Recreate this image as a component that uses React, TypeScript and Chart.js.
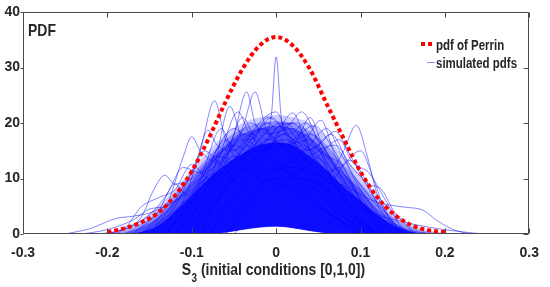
import { useEffect, useRef } from 'react';
import { Chart, registerables } from 'chart.js';
Chart.register(...registerables);

const FONT = "'Liberation Sans Narrow', 'Arial Narrow', 'Liberation Sans', Arial, sans-serif";
const TEXT = '#262626';
const FRAME = '#4a4a4a';
const LINE = 'rgba(0,0,255,0.48)';
const NARROW = 0.82;

const xTickValues = [-0.3, -0.2, -0.1, 0, 0.1, 0.2, 0.3];
const xTickLabels = ['-0.3', '-0.2', '-0.1', '0', '0.1', '0.2', '0.3'];
const yTickValues = [0, 10, 20, 30, 40];
const yTickLabels = ['0', '10', '20', '30', '40'];

// pdf of Perrin (red dotted)
const perrinX = [-0.2, -0.18, -0.16, -0.14, -0.12, -0.1, -0.08, -0.06, -0.04, -0.02, 0, 0.02, 0.04, 0.06, 0.08, 0.1, 0.12, 0.14, 0.16, 0.18, 0.2];
const perrinY = [0.35, 1.0, 2.1, 3.8, 6.9, 11.3, 17.2, 23.8, 29.7, 33.9, 35.5, 33.9, 29.7, 23.4, 17.2, 11.2, 6.6, 3.5, 1.6, 0.7, 0.35];

// density envelopes of the simulated pdfs bundle
const bandX = [-0.22, -0.2, -0.18, -0.16, -0.14, -0.12, -0.1, -0.08, -0.06, -0.04, -0.02, 0, 0.02, 0.04, 0.06, 0.08, 0.1, 0.12, 0.14, 0.16, 0.18, 0.2, 0.22];
const bandBottom = [0, 0, 0, 0, 0, 0, 0, 0, 0.3, 0.8, 1.2, 1.4, 1.1, 0.6, 0.2, 0, 0, 0, 0, 0, 0, 0, 0];
const bandCore = [0, 0, 0, 0.4, 1.5, 4.0, 7.0, 10.0, 12.5, 14.5, 16.0, 16.5, 16.0, 14.0, 11.5, 8.5, 6.0, 3.5, 1.5, 0.4, 0, 0, 0];
const bandInner = [0, 0, 0.2, 1.2, 3.0, 6.0, 9.5, 13.0, 16.0, 18.0, 19.0, 19.5, 19.0, 17.5, 14.5, 11.0, 8.0, 4.5, 2.0, 0.7, 0.2, 0, 0];
const bandMid = [0, 0.1, 0.5, 1.8, 4.0, 7.2, 10.5, 14.0, 17.0, 19.0, 20.0, 20.3, 20.0, 18.5, 16.0, 12.5, 9.2, 5.8, 2.8, 1.2, 0.4, 0.1, 0];
const bandOuter = [0, 0.3, 1.2, 2.6, 5.0, 8.0, 11.5, 15.0, 18.0, 20.0, 21.0, 21.5, 21.0, 20.0, 17.5, 14.0, 10.5, 7.0, 3.8, 1.8, 0.7, 0.2, 0];

// individual simulated pdfs that stand out of the bundle: [x, pdf]
const simCurves: number[][][] = [
  [[-0.25, 0], [-0.22, 1], [-0.19, 2.8], [-0.17, 3.2], [-0.15, 3.8], [-0.12, 6], [-0.09, 10], [-0.06, 13], [-0.03, 12], [0, 9], [0.04, 6], [0.08, 2], [0.12, 0]],
  [[-0.23, 0], [-0.2, 0.8], [-0.17, 2.5], [-0.15, 4.5], [-0.13, 5], [-0.1, 8], [-0.07, 11], [-0.04, 9], [0, 10], [0.05, 5], [0.1, 0]],
  [[-0.19, 0], [-0.16, 3], [-0.145, 8], [-0.132, 10.6], [-0.12, 9], [-0.1, 10], [-0.07, 14], [-0.04, 12], [0, 8], [0.05, 3], [0.1, 0]],
  [[-0.17, 0], [-0.14, 4], [-0.12, 9], [-0.105, 7], [-0.08, 12], [-0.05, 16], [-0.02, 13], [0.02, 10], [0.06, 4], [0.1, 0]],
  [[-0.16, 0], [-0.13, 5], [-0.11, 14], [-0.1, 17.5], [-0.09, 15], [-0.07, 13], [-0.04, 17], [-0.01, 14], [0.03, 9], [0.07, 3], [0.11, 0]],
  [[-0.15, 0], [-0.12, 6], [-0.095, 13], [-0.081, 18.7], [-0.07, 16], [-0.05, 15], [-0.02, 19], [0.01, 15], [0.05, 8], [0.09, 2], [0.12, 0]],
  [[-0.14, 0], [-0.11, 6], [-0.09, 15], [-0.073, 24], [-0.06, 17], [-0.04, 13], [-0.01, 17], [0.02, 14], [0.06, 7], [0.1, 1], [0.13, 0]],
  [[-0.13, 0], [-0.1, 6], [-0.07, 12], [-0.05, 18], [-0.035, 25.6], [-0.025, 20], [-0.01, 17], [0.02, 20], [0.05, 12], [0.09, 4], [0.12, 0]],
  [[-0.12, 0], [-0.09, 5], [-0.06, 14], [-0.04, 19], [-0.025, 25.6], [-0.012, 19], [0.01, 16], [0.04, 17], [0.07, 9], [0.1, 2], [0.13, 0]],
  [[-0.12, 0], [-0.08, 7], [-0.04, 14], [-0.015, 18], [-0.006, 21], [0, 31.9], [0.006, 21], [0.015, 17], [0.04, 13], [0.08, 5], [0.12, 0]],
  [[-0.13, 0], [-0.1, 7], [-0.07, 13], [-0.045, 22], [-0.03, 18], [-0.01, 20], [0.015, 15], [0.05, 10], [0.09, 3], [0.13, 0]],
  [[-0.14, 0], [-0.1, 5], [-0.075, 11], [-0.055, 23], [-0.04, 17], [-0.02, 15], [0.01, 18], [0.04, 12], [0.08, 4], [0.12, 0]],
  [[-0.11, 0], [-0.07, 6], [-0.04, 12], [-0.01, 15], [0.02, 21.8], [0.035, 17], [0.06, 14], [0.09, 7], [0.12, 2], [0.14, 0]],
  [[-0.1, 0], [-0.06, 8], [-0.03, 15], [0, 13], [0.025, 17], [0.04, 21], [0.055, 16], [0.08, 11], [0.11, 4], [0.14, 0]],
  [[-0.12, 0], [-0.08, 5], [-0.05, 11], [-0.02, 16], [0.01, 14], [0.035, 17], [0.053, 20.5], [0.07, 14], [0.1, 6], [0.13, 1], [0.15, 0]],
  [[-0.08, 0], [-0.04, 5], [0, 9], [0.03, 8], [0.06, 10], [0.08, 15], [0.095, 19.6], [0.108, 14], [0.12, 7], [0.14, 2], [0.16, 0]],
  [[-0.09, 0], [-0.05, 6], [-0.02, 11], [0.02, 12], [0.06, 10], [0.09, 8], [0.115, 6], [0.135, 5.2], [0.155, 4.8], [0.174, 4.3], [0.19, 2.5], [0.21, 0.8], [0.23, 0]],
  [[-0.1, 0], [-0.06, 5], [-0.02, 9], [0.03, 10], [0.07, 7], [0.11, 4], [0.15, 2.2], [0.19, 1], [0.22, 0.4], [0.245, 0]],
  [[-0.07, 0], [-0.03, 6], [0, 12], [0.03, 10], [0.06, 9], [0.088, 13.3], [0.105, 10], [0.125, 4], [0.15, 0]],
  [[-0.06, 0], [-0.02, 7], [0.02, 13], [0.05, 11], [0.075, 12], [0.1, 15], [0.115, 10], [0.13, 4], [0.15, 0]],
  [[-0.05, 0], [0, 8], [0.04, 14], [0.07, 16], [0.09, 12], [0.11, 9], [0.125, 8], [0.14, 4], [0.165, 0]],
  [[-0.2, 0], [-0.17, 1.5], [-0.15, 3.5], [-0.13, 7], [-0.11, 12], [-0.09, 11], [-0.07, 14], [-0.04, 18], [-0.01, 15], [0.03, 8], [0.08, 2], [0.11, 0]],
  [[-0.21, 0], [-0.18, 1], [-0.16, 4.9], [-0.14, 6.5], [-0.12, 8], [-0.1, 12.5], [-0.08, 10], [-0.05, 14], [-0.02, 12], [0.02, 8], [0.07, 2], [0.1, 0]],
  [[-0.1, 0], [-0.07, 8], [-0.045, 14], [-0.02, 20], [0, 22], [0.015, 18], [0.035, 20], [0.06, 13], [0.09, 5], [0.12, 0]],
  [[-0.09, 0], [-0.06, 9], [-0.03, 16], [-0.005, 21], [0.01, 19], [0.03, 22], [0.05, 17], [0.08, 10], [0.11, 3], [0.13, 0]],
  [[-0.11, 0], [-0.08, 6], [-0.06, 13], [-0.04, 21], [-0.02, 16], [0.01, 20], [0.04, 15], [0.07, 11], [0.1, 4], [0.13, 0]],
  [[-0.15, 0], [-0.12, 4], [-0.09, 10], [-0.065, 19], [-0.05, 15], [-0.03, 18], [0, 13], [0.04, 11], [0.08, 4], [0.12, 0]],
  [[-0.08, 0], [-0.05, 7], [-0.02, 13], [0.01, 18], [0.03, 15], [0.06, 19], [0.075, 15], [0.1, 8], [0.13, 2], [0.15, 0]],
  [[-0.06, 0], [-0.02, 6], [0.02, 10], [0.05, 14], [0.075, 17], [0.09, 13], [0.11, 11], [0.13, 6], [0.15, 1], [0.17, 0]],
  [[-0.14, 0], [-0.1, 4], [-0.07, 10], [-0.04, 15], [-0.015, 19], [0.01, 16], [0.04, 18], [0.07, 12], [0.1, 5], [0.13, 0]],
  [[-0.12, 0], [-0.09, 8], [-0.06, 17], [-0.04, 14], [-0.02, 17], [0.005, 20], [0.03, 16], [0.06, 11], [0.09, 4], [0.12, 0]],
  [[-0.1, 0], [-0.07, 6], [-0.04, 11], [-0.01, 14], [0.02, 17], [0.045, 19.5], [0.065, 16], [0.09, 9], [0.12, 3], [0.15, 0]],
  [[-0.16, 0], [-0.13, 3], [-0.1, 7], [-0.08, 10], [-0.06, 9], [-0.03, 13], [0, 16], [0.03, 12], [0.07, 6], [0.11, 0]],
  [[-0.07, 0], [-0.04, 5], [-0.01, 10], [0.02, 14], [0.05, 16], [0.07, 18.5], [0.085, 15], [0.11, 8], [0.14, 2], [0.16, 0]],
  [[-0.13, 0], [-0.1, 6], [-0.075, 14], [-0.05, 19], [-0.03, 17], [-0.01, 21], [0.02, 17], [0.05, 14], [0.08, 6], [0.11, 1], [0.13, 0]],
  [[-0.11, 0], [-0.08, 9], [-0.05, 16], [-0.03, 20], [-0.01, 18], [0.02, 19], [0.045, 14], [0.07, 9], [0.1, 3], [0.12, 0]],
  [[-0.09, 0], [-0.06, 8], [-0.03, 13], [0, 19], [0.025, 20], [0.05, 15], [0.08, 12], [0.1, 6], [0.13, 0]],
  [[-0.15, 0], [-0.12, 5], [-0.1, 11], [-0.085, 15], [-0.06, 12], [-0.035, 16], [-0.01, 13], [0.03, 10], [0.08, 3], [0.11, 0]],
  [[-0.08, 0], [-0.05, 6], [-0.02, 14], [0.01, 17], [0.04, 15], [0.065, 18], [0.09, 11], [0.12, 5], [0.15, 0]],
];

function narrowText(ctx: CanvasRenderingContext2D, text: string, x: number, y: number) {
  ctx.save();
  ctx.translate(x, y);
  ctx.scale(NARROW, 1);
  ctx.fillText(text, 0, 0);
  ctx.restore();
}

const decorPlugin = {
  id: 'decor',
  afterDraw(chart: any) {
    const { ctx, chartArea, scales } = chart;
    const { left, right, top, bottom } = chartArea;
    const xs = scales.x;
    const ys = scales.y;
    const L = Math.round(left) + 0.5;
    const R = Math.round(right) - 0.5;
    const T = Math.round(top) + 0.5;
    const B = Math.round(bottom) - 0.5;
    ctx.save();
    ctx.strokeStyle = FRAME;
    ctx.lineWidth = 1;
    ctx.beginPath();
    ctx.rect(L, T, R - L, B - T);
    ctx.stroke();
    ctx.beginPath();
    xTickValues.forEach((v) => {
      const p = Math.round(xs.getPixelForValue(v)) + 0.5;
      ctx.moveTo(p, T); ctx.lineTo(p, T + 5);
      ctx.moveTo(p, B); ctx.lineTo(p, B - 5);
    });
    yTickValues.forEach((v) => {
      const p = Math.round(ys.getPixelForValue(v)) + 0.5;
      ctx.moveTo(L - 3, p); ctx.lineTo(L, p);
      ctx.moveTo(R, p); ctx.lineTo(R - 5, p);
    });
    ctx.stroke();

    // "PDF" label
    ctx.fillStyle = TEXT;
    ctx.textBaseline = 'alphabetic';
    ctx.textAlign = 'left';
    ctx.font = `bold 17px ${FONT}`;
    narrowText(ctx, 'PDF', left + 5, top + 24);

    // legend
    const lx = 421;
    ctx.strokeStyle = '#ff0000';
    ctx.lineWidth = 4;
    ctx.setLineDash([4, 3]);
    ctx.beginPath(); ctx.moveTo(lx, 44); ctx.lineTo(lx + 11, 44); ctx.stroke();
    ctx.setLineDash([]);
    ctx.strokeStyle = 'rgba(0,0,255,0.45)';
    ctx.lineWidth = 1;
    ctx.beginPath(); ctx.moveTo(lx + 6, 62.5); ctx.lineTo(lx + 14, 62.5); ctx.stroke();
    ctx.font = `bold 14px ${FONT}`;
    ctx.fillStyle = TEXT;
    ctx.textBaseline = 'alphabetic';
    narrowText(ctx, 'pdf of Perrin', lx + 15, 50);
    narrowText(ctx, 'simulated pdfs', lx + 15, 68);

    // x-axis title with subscript
    const main = `bold 17px ${FONT}`;
    const sub = `bold 12px ${FONT}`;
    const s1 = 'S';
    const s2 = '3';
    const s3 = ' (initial conditions [0,1,0])';
    ctx.font = main; const w1 = ctx.measureText(s1).width * NARROW; const w3 = ctx.measureText(s3).width * NARROW;
    ctx.font = sub; const w2 = ctx.measureText(s2).width * NARROW;
    let tx = (left + right) / 2 - (w1 + w2 + w3) / 2 - 3;
    ctx.font = main; narrowText(ctx, s1, tx, 275); tx += w1 + 0.5;
    ctx.font = sub; narrowText(ctx, s2, tx, 282); tx += w2;
    ctx.font = main; narrowText(ctx, s3, tx, 275);
    ctx.restore();
  },
};

export default function App() {
  const ref = useRef<HTMLCanvasElement>(null);
  useEffect(() => {
    if (!ref.current) return;
    const pts = (xs: number[], ys: number[]) => xs.map((x, i) => ({ x, y: ys[i] }));
    const datasets: any[] = [];
    datasets.push({
      label: 'pdf of Perrin',
      data: pts(perrinX, perrinY),
      borderColor: '#ff0000',
      borderWidth: 4,
      borderDash: [4, 3],
      borderCapStyle: 'butt',
      pointRadius: 0,
      cubicInterpolationMode: 'monotone',
      fill: false,
    });
    simCurves.forEach((c, i) => {
      datasets.push({
        label: i === 0 ? 'simulated pdfs' : '',
        data: c.map(([x, y]) => ({ x, y })),
        borderColor: LINE,
        borderWidth: 1,
        pointRadius: 0,
        cubicInterpolationMode: 'monotone',
        fill: false,
      });
    });
    const baseIdx = datasets.length + 4;
    const band = (ys: number[], color: string) => ({
      label: '',
      data: pts(bandX, ys),
      borderColor: 'rgba(0,0,0,0)',
      borderWidth: 0,
      backgroundColor: color,
      pointRadius: 0,
      cubicInterpolationMode: 'monotone',
      fill: baseIdx,
    });
    datasets.push(band(bandCore, 'rgba(0,0,255,0.82)'));
    datasets.push(band(bandInner, 'rgba(0,0,255,0.45)'));
    datasets.push(band(bandMid, 'rgba(0,0,255,0.3)'));
    datasets.push(band(bandOuter, 'rgba(0,0,255,0.2)'));
    datasets.push({
      label: '',
      data: pts(bandX, bandBottom),
      borderColor: LINE,
      borderWidth: 1,
      pointRadius: 0,
      cubicInterpolationMode: 'monotone',
      fill: false,
    });

    const tickFont = { family: FONT, size: 14, weight: 'bold' as const };
    const chart = new Chart(ref.current, {
      type: 'line',
      data: { datasets },
      options: {
        animation: false,
        responsive: false,
        events: [],
        layout: { padding: { top: 12, right: 14, left: 0, bottom: 0 } },
        plugins: { legend: { display: false }, tooltip: { enabled: false } },
        scales: {
          x: {
            type: 'linear',
            min: -0.3,
            max: 0.3,
            afterBuildTicks: (s: any) => { s.ticks = xTickValues.map((v) => ({ value: v })); },
            afterFit: (s: any) => { s.height = 53; },
            grid: { display: false, drawTicks: false },
            border: { display: false },
            ticks: {
              font: tickFont,
              color: TEXT,
              padding: 11,
              maxRotation: 0,
              autoSkip: false,
              callback: (_v: any, i: number) => xTickLabels[i],
            },
          },
          y: {
            type: 'linear',
            min: 0,
            max: 40,
            afterBuildTicks: (s: any) => { s.ticks = yTickValues.map((v) => ({ value: v })); },
            afterFit: (s: any) => { s.width = 23; },
            grid: { display: false, drawTicks: false },
            border: { display: false },
            ticks: {
              font: tickFont,
              color: TEXT,
              padding: 3,
              callback: (_v: any, i: number) => yTickLabels[i],
            },
          },
        },
      },
      plugins: [decorPlugin],
    });
    return () => chart.destroy();
  }, []);
  return (
    <div style={{ position: 'fixed', left: 0, top: 0, width: 550, height: 287, background: '#fff' }}>
      <canvas ref={ref} width={550} height={287} style={{ display: 'block', width: 550, height: 287 }} />
    </div>
  );
}
